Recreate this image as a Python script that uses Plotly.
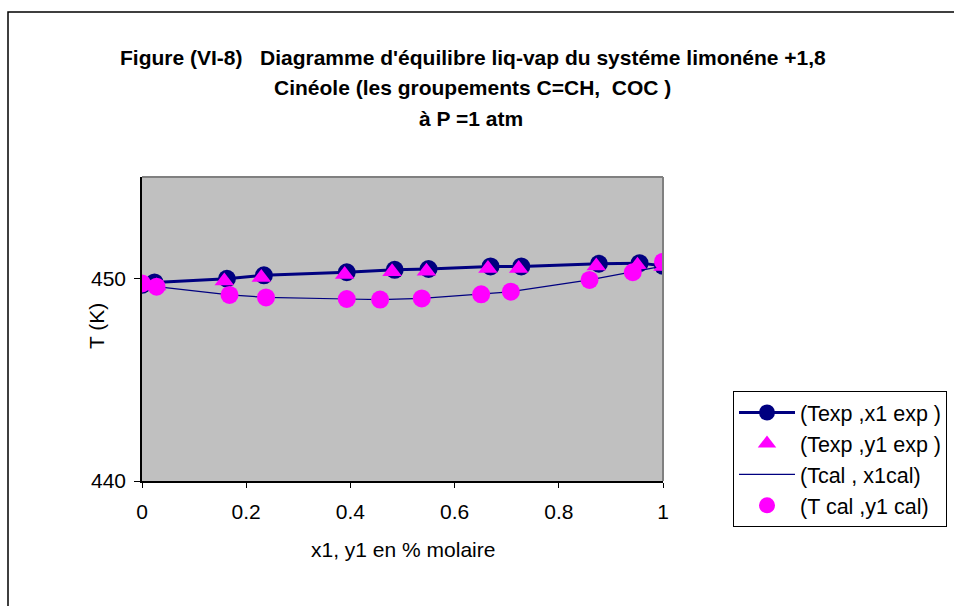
import plotly.graph_objects as go

# ---- data ----
x1_exp = [0.0, 0.024, 0.163, 0.234, 0.393, 0.485, 0.550, 0.669, 0.728, 0.877, 0.955, 1.0]
T_x1_exp = [449.68, 449.80, 449.98, 450.15, 450.30, 450.42, 450.46, 450.59, 450.59, 450.72, 450.75, 450.62]

y1_exp = [0.0, 0.028, 0.158, 0.229, 0.389, 0.480, 0.546, 0.664, 0.723, 0.872, 0.951, 1.0]
T_y1_exp = [449.68, 449.62, 449.87, 450.04, 450.19, 450.32, 450.35, 450.48, 450.48, 450.61, 450.65, 450.58]

x1_cal = [0.0, 0.028, 0.168, 0.238, 0.393, 0.457, 0.537, 0.651, 0.708, 0.859, 0.942, 1.0]
T_x1_cal = [449.65, 449.59, 449.18, 449.06, 448.98, 448.95, 449.01, 449.21, 449.34, 449.92, 450.30, 450.60]

y1_cal = [0.0, 0.028, 0.168, 0.238, 0.393, 0.457, 0.537, 0.651, 0.708, 0.859, 0.942, 1.0]
T_y1_cal = [449.75, 449.59, 449.18, 449.06, 448.98, 448.95, 449.01, 449.21, 449.34, 449.92, 450.30, 450.82]

names = ["(Texp ,x1 exp )", "(Texp ,y1 exp )", "(Tcal , x1cal)", "(T cal ,y1 cal)"]
title_lines = [
    "Figure (VI-8)&nbsp;&nbsp; Diagramme d'équilibre liq-vap du systéme limonéne +1,8",
    "Cinéole (les groupements C=CH,&nbsp; COC )",
    "à P =1 atm",
]
x_title = "x1, y1 en % molaire"
y_title = "T (K)"

NAVY = "#000080"
MAG = "#FF00FF"
FONT = "Liberation Sans, Arial, sans-serif"

# plot area in pixels
L, R, T, B = 142, 663, 177, 481
W, H = R - L, B - T
def px(x):
    return (x - L) / W
def py(y):
    return (B - y) / H

fig = go.Figure()
fig.add_trace(go.Scatter(x=x1_exp, y=T_x1_exp, name=names[0], mode="lines+markers",
                         line=dict(color=NAVY, width=3),
                         marker=dict(symbol="circle", size=18, color=NAVY),
                         legendgroup="a"))
fig.add_trace(go.Scatter(x=y1_exp, y=T_y1_exp, name=names[1], mode="markers",
                         marker=dict(symbol="triangle-up", size=17, color=MAG),
                         legendgroup="b"))
fig.add_trace(go.Scatter(x=x1_cal, y=T_x1_cal, name=names[2], mode="lines",
                         line=dict(color=NAVY, width=1.2),
                         legendgroup="c"))
fig.add_trace(go.Scatter(x=y1_cal, y=T_y1_cal, name=names[3], mode="markers",
                         marker=dict(symbol="circle", size=18, color=MAG),
                         legendgroup="d"))

shapes = [
    # outer chart border
    dict(type="rect", xref="paper", yref="paper", x0=px(8), x1=px(975), y0=py(625), y1=py(12),
         line=dict(color="black", width=1.5), layer="below"),
    # plot area top / right border
    dict(type="line", xref="paper", yref="paper", x0=0, x1=1, y0=1, y1=1,
         line=dict(color="#808080", width=2)),
    dict(type="line", xref="paper", yref="paper", x0=1, x1=1, y0=0, y1=1,
         line=dict(color="#808080", width=2)),
]

annotations = []
centers = [(473, 57), (472, 88), (471, 118)]
for txt, (cx, cy) in zip(title_lines, centers):
    annotations.append(dict(text="<b>" + txt + "</b>", xref="paper", yref="paper",
                            x=px(cx), y=py(cy), xanchor="center", yanchor="middle",
                            showarrow=False, font=dict(family=FONT, size=21, color="black")))
annotations.append(dict(text=x_title, xref="paper", yref="paper", x=px(403), y=py(549),
                        xanchor="center", yanchor="middle", showarrow=False,
                        font=dict(family=FONT, size=21, color="black")))
annotations.append(dict(text=y_title, xref="paper", yref="paper", x=px(96), y=py(326),
                        xanchor="center", yanchor="middle", showarrow=False, textangle=-90,
                        font=dict(family=FONT, size=21, color="black")))

fig.update_layout(
    width=954, height=606,
    margin=dict(l=L, r=954 - R, t=T, b=606 - B, pad=0, autoexpand=False),
    paper_bgcolor="white", plot_bgcolor="#C0C0C0",
    font=dict(family=FONT, size=21, color="black"),
    showlegend=True,
    legend=dict(x=px(733), y=py(391), xanchor="left", yanchor="top",
                xref="paper", yref="paper",
                bgcolor="white", bordercolor="black", borderwidth=1,
                font=dict(family=FONT, size=21.5, color="black"),
                tracegroupgap=8, itemwidth=56, traceorder="normal"),
    shapes=shapes, annotations=annotations,
)
fig.update_xaxes(range=[0, 1], dtick=0.2, tick0=0, showgrid=False, zeroline=False,
                 showline=True, linecolor="black", linewidth=1.5,
                 ticks="outside", ticklen=5, tickcolor="black",
                 tickfont=dict(family=FONT, size=21), ticklabelstandoff=6)
fig.update_yaxes(range=[440, 455], dtick=10, tick0=440, showgrid=False, zeroline=False,
                 showline=True, linecolor="black", linewidth=1.5,
                 ticks="outside", ticklen=6, tickcolor="black",
                 tickfont=dict(family=FONT, size=21), ticklabelstandoff=4)

fig.write_html("out.html")
